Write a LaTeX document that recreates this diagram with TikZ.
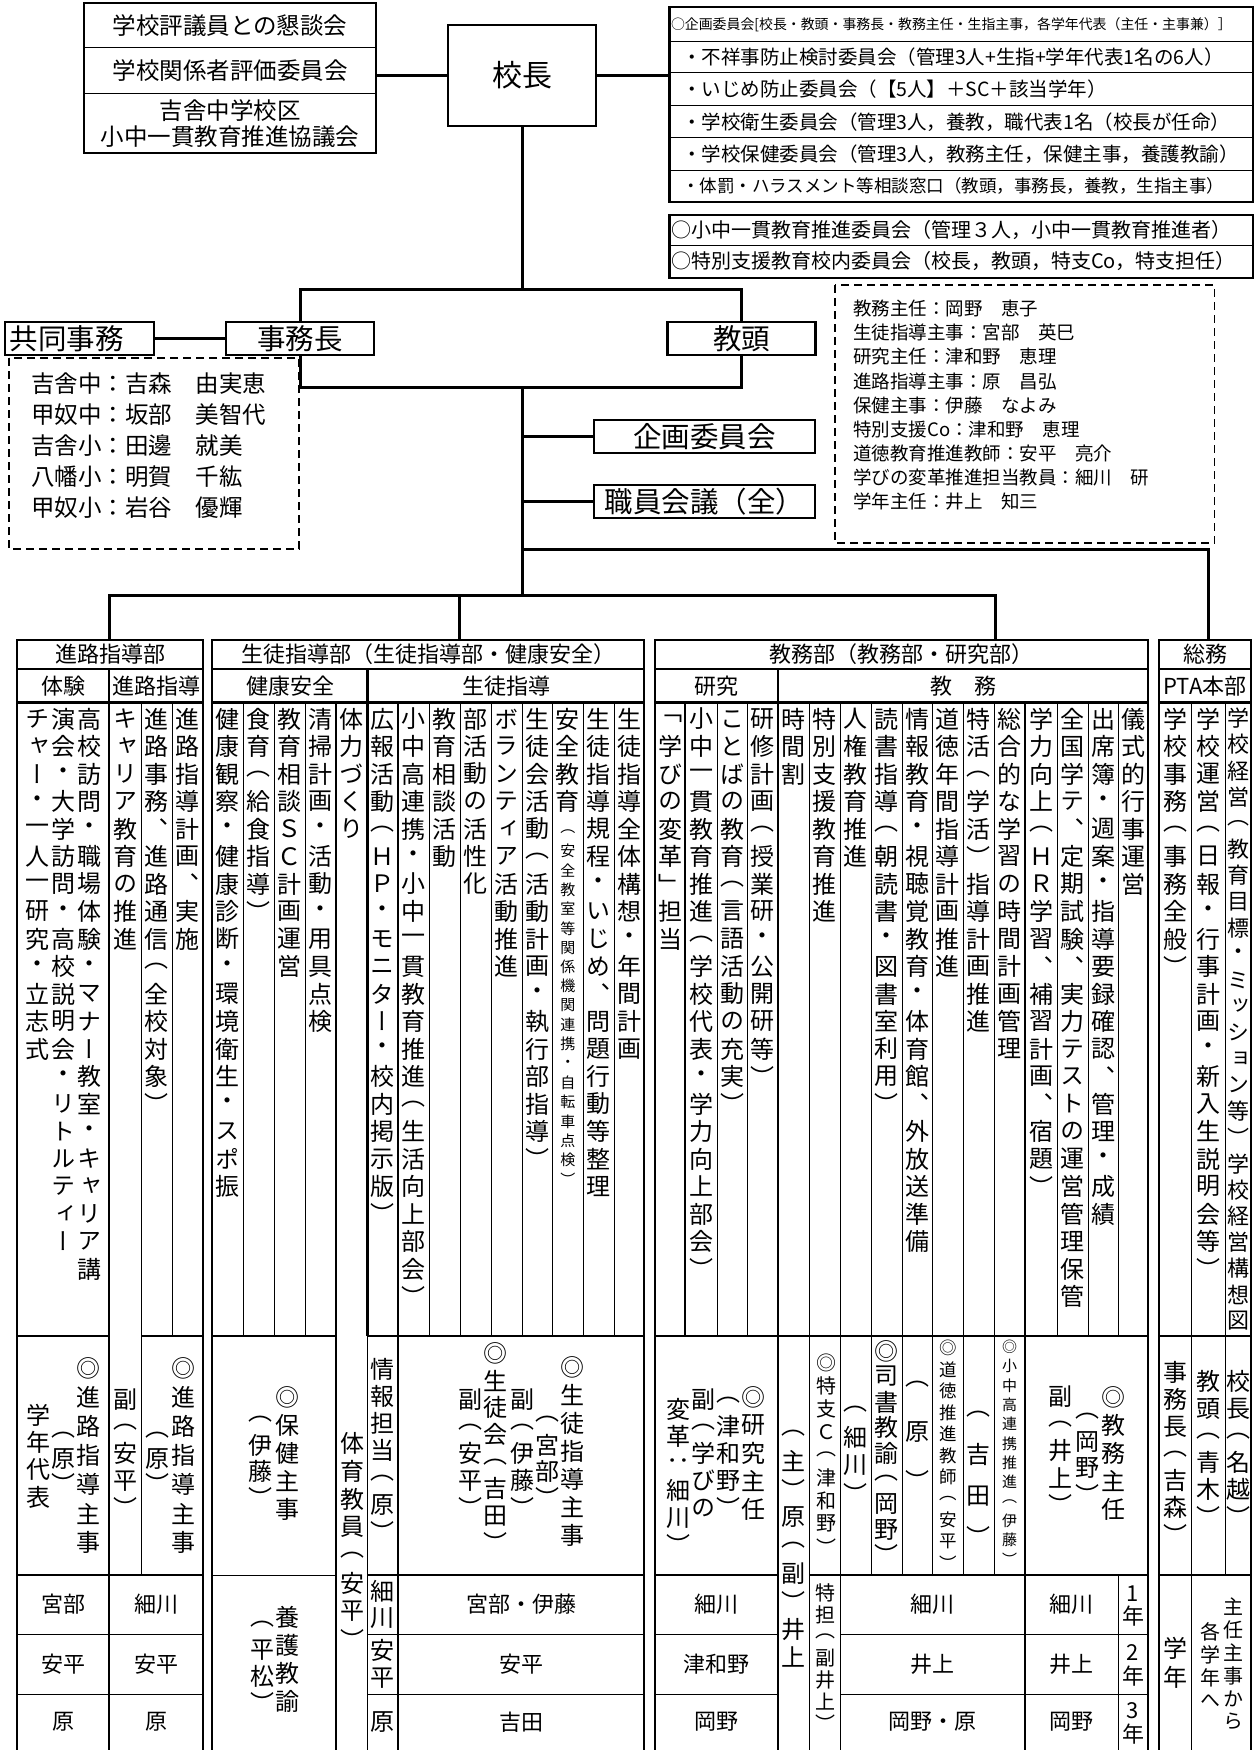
\documentclass[tikz,border=0pt]{standalone}
\usepackage{fontspec}
\setmainfont{Noto Sans CJK JP}
\newfontfamily\vjp{Noto Sans CJK JP}[RawFeature=+vert]
\usetikzlibrary{positioning}

% tategaki: one character per cell, stacked downwards
\newlength\tatepitch
\makeatletter
\newcommand\tate[2][27.5pt]{\setlength\tatepitch{#1}\vbox{\offinterlineskip\expandafter\tate@loop#2\@nil}}
\def\tate@loop#1{\ifx\@nil#1\else\hbox to 1em{\hss\vbox to\tatepitch{\vss\hbox{#1}\vss}\hss}\expandafter\tate@loop\fi}
\makeatother

\begin{document}
\begin{tikzpicture}[x=1pt,y=-1pt,
  orgbox/.style={draw,line width=2.7pt,inner sep=0pt,outer sep=0pt,font=\fontsize{28.5}{28.5}\selectfont},
  conn/.style={line width=3pt},
  stackrow/.style={draw,line width=1pt,inner sep=0pt,outer sep=0pt,minimum width=292pt,align=center,font=\fontsize{23.5}{26}\selectfont},
  iinrow/.style={draw,line width=1pt,outer sep=0pt,inner sep=0pt,text width=583.5pt,align=left,font=\fontsize{19.5}{19.5}\selectfont},
  dashbox/.style={line width=1.6pt,dash pattern=on 8pt off 5pt},
  tkline/.style={line width=2.6pt},
  tnline/.style={line width=1pt},
  hd/.style={inner sep=0pt,font=\fontsize{22}{22}\selectfont},
  vtx/.style={anchor=north,inner sep=0pt,font=\vjp\fontsize{24}{24}\selectfont},
  nm/.style={inner sep=0pt,font=\fontsize{22}{22}\selectfont}
]
  \useasboundingbox (0,0) rectangle (1257,1750);

  % councils left of the principal
  \node[stackrow,minimum height=45pt] (hyogi) at (230,25.5) {学校評議員との懇談会};
  \node[stackrow,minimum height=46pt,below=0pt of hyogi] (kankei) {学校関係者評価委員会};
  \node[stackrow,minimum height=59pt,below=0pt of kankei] (kyogi) {吉舎中学校区\\小中一貫教育推進協議会};
  \draw[line width=2.7pt] (hyogi.north west) rectangle (kyogi.south east);

  % principal
  \node[orgbox,minimum width=148pt,minimum height=101pt,font=\fontsize{30}{30}\selectfont] (kocho) at (522,75.5) {校長};

  % committees
  \node[iinrow,minimum height=35pt,font=\fontsize{13.9}{13.9}\selectfont] (iin1) at (961.25,24.5)
    {\hspace*{1.5pt}○企画委員会[校長・教頭・事務長・教務主任・生指主事，各学年代表（主任・主事兼）］};
  \node[iinrow,minimum height=31pt,below=0pt of iin1] (iin2) {\hspace*{12.5pt}・不祥事防止検討委員会（管理3人+生指+学年代表1名の6人）};
  \node[iinrow,minimum height=33pt,below=0pt of iin2] (iin3) {\hspace*{12.5pt}・いじめ防止委員会（【5人】＋SC＋該当学年）};
  \node[iinrow,minimum height=32pt,below=0pt of iin3] (iin4) {\hspace*{12.5pt}・学校衛生委員会（管理3人，養教，職代表1名（校長が任命）};
  \node[iinrow,minimum height=32pt,below=0pt of iin4] (iin5) {\hspace*{12.5pt}・学校保健委員会（管理3人，教務主任，保健主事，養護教諭）};
  \node[iinrow,minimum height=32pt,below=0pt of iin5,font=\fontsize{17.5}{17.5}\selectfont] (iin6)
    {\hspace*{12.5pt}・体罰・ハラスメント等相談窓口（教頭，事務長，養教，生指主事）};
  \draw[line width=2.7pt] (iin1.north west) rectangle (iin6.south east);

  \node[iinrow,minimum height=30pt,font=\fontsize{20}{20}\selectfont] (suishin) at (961.25,230)
    {\hspace*{1.5pt}○小中一貫教育推進委員会（管理３人，小中一貫教育推進者）};
  \node[iinrow,minimum height=33pt,font=\fontsize{20}{20}\selectfont,below=0pt of suishin] (tokushi)
    {\hspace*{1.5pt}○特別支援教育校内委員会（校長，教頭，特支Co，特支担任）};
  \draw[line width=2.7pt] (suishin.north west) rectangle (tokushi.south east);

  \draw[conn] (kocho.west) -- (kocho.west -| kankei.east);
  \draw[conn] (kocho.east) -- (kocho.east -| iin1.west);

  % office head, vice principal, meetings
  \node[orgbox,text width=140pt,inner xsep=4.5pt,align=left,minimum height=33pt,anchor=west] (kyodo) at (5,338.5) {共同事務};
  \node[orgbox,minimum width=148pt,minimum height=33pt] (jimucho) at (300,338.5) {事務長};
  \node[orgbox,minimum width=147.5pt,minimum height=33pt] (kyoto) at (741.5,338.5) {教頭};
  \node[orgbox,minimum width=221pt,minimum height=33pt] (kikaku) at (704.5,436.5) {企画委員会};
  \node[orgbox,minimum width=221pt,minimum height=33pt] (shokuin) at (704.5,501.5) {職員会議（全）};

  \coordinate (topbar) at (522,289);
  \coordinate (botbar) at (522,387);
  \coordinate (sobar) at (522,549);
  \coordinate (hub) at (522,595);
  \coordinate (shinro) at (109,640);
  \coordinate (seito) at (459,640);
  \coordinate (kyomu) at (995,640);
  \coordinate (somu) at (1208,640);

  \draw[conn] (kocho.south) -- (topbar);
  \draw[conn] (jimucho.north) |- (topbar) -| (kyoto.north);
  \draw[conn] (jimucho.south) |- (botbar) -| (kyoto.south);
  \draw[conn] (kyodo.east) -- (jimucho.west);
  \draw[conn] (botbar) -- (hub);
  \draw[conn] (kikaku.west) -- (kikaku.west -| botbar);
  \draw[conn] (shokuin.west) -- (shokuin.west -| botbar);
  \draw[conn] (sobar) -| (somu);
  \draw[conn] (shinro) |- (hub) -| (kyomu);
  \draw[conn] (seito) -- (seito |- hub);

  % joint office staff
  \draw[dashbox] (9,358) rectangle (299,549);
  \node[anchor=north west,align=left,inner sep=0pt,font=\fontsize{23.5}{31}\selectfont] (kyodomei) at (31,373)
    {吉舎中：吉森　由実恵\\甲奴中：坂部　美智代\\吉舎小：田邊　就美\\八幡小：明賀　千紘\\甲奴小：岩谷　優輝};

  % chief teachers
  \draw[dashbox] (835,285) rectangle (1214.5,543);
  \node[anchor=north west,align=left,inner sep=0pt,font=\fontsize{18.5}{24.1}\selectfont] (shunin) at (853,300)
    {教務主任：岡野　恵子\\生徒指導主事：宮部　英巳\\研究主任：津和野　恵理\\進路指導主事：原　昌弘\\保健主事：伊藤　なよみ\\特別支援Co：津和野　恵理\\道徳教育推進教師：安平　亮介\\学びの変革推進担当教員：細川　研\\学年主任：井上　知三};

  % department table: frames
  \foreach \l/\r in {17/203,212/644,655/1148,1159/1251}{
    \draw[tkline] (\l,1750) |- (\r,640) -- (\r,1750);
    \draw[tkline] (\l,669) -- (\r,669) (\l,702.5) -- (\r,702.5);
  }
  \foreach \x in {109,367.5,778} \draw[tkline] (\x,669) -- (\x,702.5);
  \foreach \x/\ya/\yb in {109/702.5/1750,336/702.5/1750,367.5/702.5/1336,398/702.5/1750,
      685/702.5/1336,778/702.5/1750,1025/702.5/1750}
    \draw[tkline] (\x,\ya) -- (\x,\yb);
  \foreach \x/\ya/\yb in {172/702.5/1336,243/702.5/1336,274/702.5/1336,305/702.5/1336,
      429/702.5/1336,460/702.5/1336,491/702.5/1336,522/702.5/1336,552.5/702.5/1336,
      583/702.5/1336,614/702.5/1336,717/702.5/1336,747/702.5/1336,1057/702.5/1336,
      1088/702.5/1336,1118/702.5/1336,141/702.5/1575,871/702.5/1575,902/702.5/1575,
      932.5/702.5/1575,963/702.5/1575,994/702.5/1575,1225/702.5/1575,809/702.5/1750,
      840/702.5/1750,1191/702.5/1750,1118/1575/1750,367.5/1336/1750}
    \draw[tnline] (\x,\ya) -- (\x,\yb);
  \foreach \l/\r in {17/109,141/203,212/336,367.5/644,655/1148,1159/1251}
    \draw[tkline] (\l,1336) -- (\r,1336);
  \foreach \l/\r in {17/203,367.5/644,655/778,809/1148,1159/1251}
    \draw[tkline] (\l,1575) -- (\r,1575);
  \draw[tnline] (212,1575) -- (336,1575);
  \foreach \l/\r in {17/203,367.5/644,655/778,840/1148}
    \draw[tnline] (\l,1634) -- (\r,1634) (\l,1694) -- (\r,1694);

  % headings
  \node[hd] (hA) at (110,654.5) {進路指導部};
  \node[hd] (hB) at (428,654.5) {生徒指導部（生徒指導部・健康安全）};
  \node[hd] (hC) at (901.5,654.5) {教務部（教務部・研究部）};
  \node[hd] (hD) at (1205,654.5) {総務};
  \node[hd] (sA1) at (63,686) {体験};
  \node[hd] (sA2) at (156,686) {進路指導};
  \node[hd] (sB1) at (290,686) {健康安全};
  \node[hd] (sB2) at (506,686) {生徒指導};
  \node[hd] (sC1) at (716.5,686) {研究};
  \node[hd] (sC2) at (963,686) {教　務};
  \node[hd] (sD) at (1205,686) {PTA本部};

  % duties
  \foreach \x/\txt [count=\i] in {37/チャー・一人一研究・立志式,63/演会・大学訪問・高校説明会・リトルティー,
      89/高校訪問・職場体験・マナー教室・キャリア講,125/キャリア教育の推進,156.5/進路事務、進路通信（全校対象）,
      187.5/進路指導計画、実施,227.5/健康観察・健康診断・環境衛生・スポ振,258.5/食育（給食指導）,
      289.5/教育相談ＳＣ計画運営,320.5/清掃計画・活動・用具点検,351.75/体力づくり,
      382.75/広報活動（ＨＰ・モニター・校内掲示版）,413.5/小中高連携・小中一貫教育推進（生活向上部会）,
      444.5/教育相談活動,475.5/部活動の活性化,506.5/ボランティア活動推進,537.25/生徒会活動（活動計画・執行部指導）,
      567.75/安全教育,598.5/生徒指導規程・いじめ、問題行動等整理,629/生徒指導全体構想・年間計画,
      670/「学びの変革」担当,701/小中一貫教育推進（学校代表・学力向上部会）,732/ことばの教育（言語活動の充実）,
      762.5/研修計画（授業研・公開研等）,793.5/時間割,824.5/特別支援教育推進,855.5/人権教育推進,
      886.5/読書指導（朝読書・図書室利用）,917.25/情報教育・視聴覚教育・体育館、外放送準備,
      947.75/道徳年間指導計画推進,978.5/特活（学活）指導計画推進,1009.5/総合的な学習の時間計画管理,
      1041/学力向上（ＨＲ学習、補習計画、宿題）,1072.5/全国学テ、定期試験、実力テストの運営管理保管,
      1103/出席簿・週案・指導要録確認、管理・成績,1133/儀式的行事運営,1175/学校事務（事務全般）,
      1208/学校運営（日報・行事計画・新入生説明会等）}
    \node[vtx] (duty\i) at (\x,705) {\tate{\txt}};
  \node[vtx,font=\vjp\fontsize{15}{15}\selectfont] (anzen) at (567.75,822) {\tate[19.3pt]{（安全教室等関係機関連携・自転車点検）}};
  \node[vtx,font=\vjp\fontsize{22}{22}\selectfont] (keiei) at (1238,705) {\tate[26.2pt]{学校経営（教育目標・ミッション等）学校経営構想図}};

  % persons in charge
  \foreach \x/\y/\p/\txt [count=\i] in {88/1354/29/◎進路指導主事,63/1423/24/（原）,38/1401/27.5/学年代表,
      125/1386/27/副（安平）,157/1423/24/（原）,183/1354/29/◎進路指導主事,287/1383/28/◎保健主事,
      260/1406/26/（伊藤）,352/1429/28/体育教員（安平）,382.75/1356/27/情報担当（原）,
      572/1353/28/◎生徒指導主事,547/1406/26/（宮部）,522/1386/27/副（伊藤）,495/1340/27/◎生徒会（吉田）,
      470/1386/27/副（安平）,753/1383/28/◎研究主任,728/1386/27/（津和野）,703/1386/27/副（学びの,
      678/1396/27/変革：細川）,793.5/1419/28/（主）原（副）井上,855.5/1395/28/（細川）,
      886.5/1338/25.5/◎司書教諭（岡野）,917.25/1360/48/（原）,978.5/1393/41/（吉田）,
      1113/1383/28/◎教務主任,1087/1403/26/（岡野）,1060/1383/27/副（井上）,1175/1359/27/事務長（吉森）,
      1208/1368/27/教頭（青木）,1238/1368/27/校長（名越）,287/1603/28/養護教諭,262/1611/26/（平松）,
      1175/1634/29/学年,382.75/1577.5/27/細川,382.75/1637/27/安平,382.75/1708.5/27/原}
    \node[vtx] (tanto\i) at (\x,\y) {\tate[\p pt]{\txt}};
  \node[vtx,font=\vjp\fontsize{20}{20}\selectfont] (tokushico) at (826,1351) {\tate[23pt]{◎特支Ｃ（津和野）}};
  \node[vtx,font=\vjp\fontsize{20}{20}\selectfont] (tokutan) at (825,1582) {\tate[21.7pt]{特担（副井上）}};
  \node[vtx,font=\vjp\fontsize{17.5}{17.5}\selectfont] (dotoku) at (947.75,1337) {\tate[21.5pt]{◎道徳推進教師（安平）}};
  \node[vtx,font=\vjp\fontsize{15}{15}\selectfont] (renkei) at (1009.5,1337) {\tate[19.3pt]{◎小中高連携推進（伊藤）}};
  \node[vtx,font=\vjp\fontsize{20}{20}\selectfont] (shunin2) at (1233,1595) {\tate[23pt]{主任主事から}};
  \node[vtx,font=\vjp\fontsize{20}{20}\selectfont] (kakugaku) at (1210,1620) {\tate[23pt]{各学年へ}};
  \foreach \y/\txt [count=\i] in {1581.5/1年,1641/2年,1699/3年}
    \node[vtx,font=\vjp\fontsize{22}{22}\selectfont] (nen\i) at (1133,\y) {\tate[23pt]{\txt}};

  % grade rows
  \foreach \x/\y/\txt [count=\i] in {63/1604.5/宮部,63/1664/安平,63/1722/原,156/1604.5/細川,156/1664/安平,
      156/1722/原,521/1604.5/宮部・伊藤,521/1664/安平,521/1722/吉田,716.5/1604.5/細川,716.5/1664/津和野,
      716.5/1722/岡野,932.5/1604.5/細川,932.5/1664/井上,932.5/1722/岡野・原,1071.5/1604.5/細川,
      1071.5/1664/井上,1071.5/1722/岡野}
    \node[nm] (mei\i) at (\x,\y) {\txt};
\end{tikzpicture}
\end{document}
